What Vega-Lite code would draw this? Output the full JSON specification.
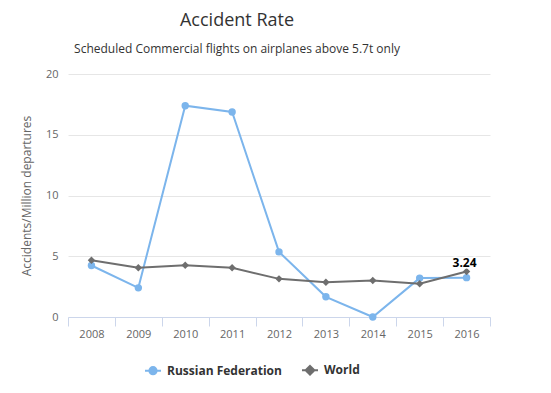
{
  "$schema": "https://vega.github.io/schema/vega-lite/v6.json",
  "width": 422,
  "height": 243,
  "autosize": {"type": "none"},
  "padding": {"left": 68, "top": 74, "right": 61, "bottom": 76},
  "background": "white",
  "view": {"stroke": null},
  "title": {
    "text": "Accident Rate",
    "subtitle": "Scheduled Commercial flights on airplanes above 5.7t only",
    "anchor": "middle",
    "dx": -42,
    "offset": 13,
    "fontSize": 18,
    "font": "Open Sans",
    "fontWeight": "normal",
    "color": "#333333",
    "subtitleFont": "Open Sans",
    "subtitleFontSize": 12,
    "subtitleColor": "#333333",
    "subtitlePadding": 14
  },
  "data": {
    "values": [
      {"year": "2008", "series": "Russian Federation", "rate": 4.24},
      {"year": "2009", "series": "Russian Federation", "rate": 2.4},
      {"year": "2010", "series": "Russian Federation", "rate": 17.39},
      {"year": "2011", "series": "Russian Federation", "rate": 16.87},
      {"year": "2012", "series": "Russian Federation", "rate": 5.36},
      {"year": "2013", "series": "Russian Federation", "rate": 1.66},
      {"year": "2014", "series": "Russian Federation", "rate": 0},
      {"year": "2015", "series": "Russian Federation", "rate": 3.2},
      {"year": "2016", "series": "Russian Federation", "rate": 3.24, "label": "3.24"},
      {"year": "2008", "series": "World", "rate": 4.67},
      {"year": "2009", "series": "World", "rate": 4.05},
      {"year": "2010", "series": "World", "rate": 4.26},
      {"year": "2011", "series": "World", "rate": 4.05},
      {"year": "2012", "series": "World", "rate": 3.14},
      {"year": "2013", "series": "World", "rate": 2.86},
      {"year": "2014", "series": "World", "rate": 3.0},
      {"year": "2015", "series": "World", "rate": 2.73},
      {"year": "2016", "series": "World", "rate": 3.74}
    ]
  },
  "encoding": {
    "x": {
      "field": "year",
      "type": "ordinal",
      "scale": {"type": "band", "paddingInner": 0, "paddingOuter": 0},
      "axis": {
        "title": null,
        "labelAngle": 0,
        "labelFont": "Open Sans",
        "labelFontSize": 11,
        "labelColor": "#666666",
        "domainColor": "#ccd6eb",
        "tickColor": "#ccd6eb",
        "tickSize": 9,
        "tickBand": "extent",
        "labelPadding": 2,
        "grid": false
      }
    },
    "y": {
      "field": "rate",
      "type": "quantitative",
      "scale": {"domain": [0, 20], "nice": false},
      "axis": {
        "title": "Accidents/Million departures",
        "titleFont": "Open Sans",
        "titleFontSize": 12,
        "titleFontWeight": "normal",
        "titleColor": "#666666",
        "titlePadding": 12,
        "values": [0, 5, 10, 15, 20],
        "labelFont": "Open Sans",
        "labelFontSize": 11,
        "labelColor": "#666666",
        "labelPadding": 10,
        "domain": false,
        "ticks": false,
        "grid": true,
        "gridColor": "#e6e6e6"
      }
    },
    "color": {
      "field": "series",
      "type": "nominal",
      "scale": {"domain": ["Russian Federation", "World"], "range": ["#7cb5ec", "#6e6e6e"]},
      "legend": {
        "title": null,
        "orient": "none",
        "legendX": 76,
        "legendY": 287,
        "direction": "horizontal",
        "labelFont": "Open Sans",
        "labelFontSize": 12,
        "labelFontWeight": "bold",
        "labelColor": "#333333",
        "symbolSize": 256,
        "symbolType": "M-1,0H1M0.45,0A0.45,0.45,0,1,1,-0.45,0A0.45,0.45,0,1,1,0.45,0Z",
        "columnPadding": 16,
        "labelOffset": 5,
        "encode": {
          "symbols": {
            "update": {
              "shape": {"signal": "datum.value === 'World' ? 'M-1,0H1M0,-0.55L0.55,0L0,0.55L-0.55,0Z' : 'M-1,0H1M0.45,0A0.45,0.45,0,1,1,-0.45,0A0.45,0.45,0,1,1,0.45,0Z'"},
              "stroke": {"scale": "color", "field": "value"},
              "fill": {"scale": "color", "field": "value"},
              "strokeWidth": {"value": 2},
              "opacity": {"value": 1}
            }
          }
        }
      }
    }
  },
  "layer": [
    {
      "mark": {"type": "line", "strokeWidth": 2}
    },
    {
      "transform": [{"filter": "datum.series === 'Russian Federation'"}],
      "mark": {"type": "point", "shape": "circle", "filled": true, "opacity": 1, "size": 55}
    },
    {
      "transform": [{"filter": "datum.series === 'World'"}],
      "mark": {"type": "point", "shape": "diamond", "filled": true, "opacity": 1, "size": 55}
    },
    {
      "transform": [{"filter": "datum.label"}],
      "mark": {
        "type": "text",
        "dy": -15,
        "dx": -2,
        "fontSize": 12,
        "fontWeight": "bold",
        "font": "Open Sans",
        "stroke": "white",
        "strokeWidth": 3,
        "strokeJoin": "round"
      },
      "encoding": {
        "text": {"field": "label"},
        "color": {"value": "#000000"}
      }
    },
    {
      "transform": [{"filter": "datum.label"}],
      "mark": {
        "type": "text",
        "dy": -15,
        "dx": -2,
        "fontSize": 12,
        "fontWeight": "bold",
        "font": "Open Sans"
      },
      "encoding": {
        "text": {"field": "label"},
        "color": {"value": "#000000"}
      }
    }
  ]
}
